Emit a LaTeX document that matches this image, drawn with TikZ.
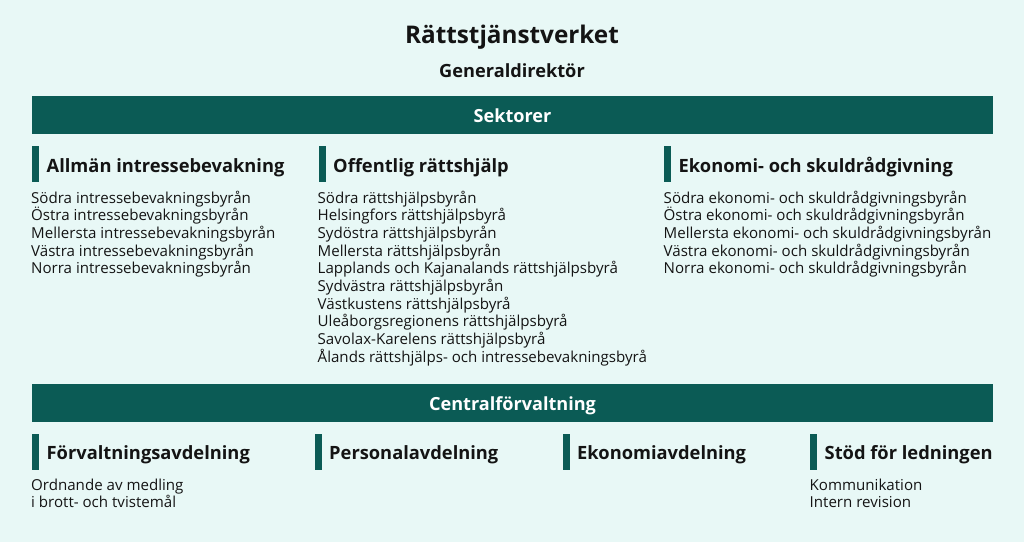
\documentclass[tikz,border=0pt]{standalone}
\usepackage{fontspec}
\setmainfont{Open Sans}
\usetikzlibrary{positioning}
\definecolor{mintbg}{HTML}{E8F8F6}
\definecolor{darkteal}{HTML}{0B5B55}
\definecolor{inktext}{HTML}{141414}

\begin{document}
\begin{tikzpicture}[x=1pt,y=-1pt]
  \useasboundingbox[fill=mintbg] (0,0) rectangle (1024,542);

  \tikzstyle{TitleStyle}=[inner sep=0pt,anchor=base,text=inktext,font=\fontsize{24.3}{29}\selectfont\bfseries]
  \tikzstyle{SubStyle}=[inner sep=0pt,anchor=base,text=inktext,font=\fontsize{18.2}{22}\selectfont\bfseries]
  \tikzstyle{BarStyle}=[fill=darkteal,inner sep=0pt,minimum width=961pt,minimum height=38pt,
                        text height=14pt,text depth=0pt,text=white,font=\fontsize{18.1}{22}\selectfont\bfseries]
  \tikzstyle{AccentStyle}=[fill=darkteal,inner sep=0pt,minimum width=7pt,minimum height=36pt,anchor=north west]
  \tikzstyle{HeadStyle}=[inner sep=0pt,anchor=base west,text=inktext,font=\fontsize{18.3}{22}\selectfont\bfseries]
  \tikzstyle{ItemStyle}=[inner sep=0pt,anchor=base west,text=inktext,font=\fontsize{15.1}{18}\selectfont]

  % title
  \node[TitleStyle] (title) at (512,43) {Rättstjänstverket};
  \node[SubStyle] (gd) at (512,77) {Generaldirektör};

  % sectors
  \node[BarStyle] (sektorer) at (512.5,115) {Sektorer};

  \node[AccentStyle] (accA) at (32,146) {};
  \node[HeadStyle] (headA) at (46.5,172.5) {Allmän intressebevakning};
  \node[ItemStyle] (a1) at (31,203) {Södra intressebevakningsbyrån};
  \node[ItemStyle] (a2) at (31,220.7) {Östra intressebevakningsbyrån};
  \node[ItemStyle] (a3) at (31,238.4) {Mellersta intressebevakningsbyrån};
  \node[ItemStyle] (a4) at (31,256.1) {Västra intressebevakningsbyrån};
  \node[ItemStyle] (a5) at (31,273.8) {Norra intressebevakningsbyrån};

  \node[AccentStyle] (accB) at (318.5,146) {};
  \node[HeadStyle] (headB) at (333,172.5) {Offentlig rättshjälp};
  \node[ItemStyle] (b1) at (317.5,203) {Södra rättshjälpsbyrån};
  \node[ItemStyle] (b2) at (317.5,220.7) {Helsingfors rättshjälpsbyrå};
  \node[ItemStyle] (b3) at (317.5,238.4) {Sydöstra rättshjälpsbyrån};
  \node[ItemStyle] (b4) at (317.5,256.1) {Mellersta rättshjälpsbyrån};
  \node[ItemStyle] (b5) at (317.5,273.8) {Lapplands och Kajanalands rättshjälpsbyrå};
  \node[ItemStyle] (b6) at (317.5,291.5) {Sydvästra rättshjälpsbyrån};
  \node[ItemStyle] (b7) at (317.5,309.2) {Västkustens rättshjälpsbyrå};
  \node[ItemStyle] (b8) at (317.5,326.9) {Uleåborgsregionens rättshjälpsbyrå};
  \node[ItemStyle] (b9) at (317.5,344.6) {Savolax-Karelens rättshjälpsbyrå};
  \node[ItemStyle] (b10) at (317.5,362.3) {Ålands rättshjälps- och intressebevakningsbyrå};

  \node[AccentStyle] (accC) at (664,146) {};
  \node[HeadStyle] (headC) at (678.5,172.5) {Ekonomi- och skuldrådgivning};
  \node[ItemStyle] (c1) at (663.5,203) {Södra ekonomi- och skuldrådgivningsbyrån};
  \node[ItemStyle] (c2) at (663.5,220.7) {Östra ekonomi- och skuldrådgivningsbyrån};
  \node[ItemStyle] (c3) at (663.5,238.4) {Mellersta ekonomi- och skuldrådgivningsbyrån};
  \node[ItemStyle] (c4) at (663.5,256.1) {Västra ekonomi- och skuldrådgivningsbyrån};
  \node[ItemStyle] (c5) at (663.5,273.8) {Norra ekonomi- och skuldrådgivningsbyrån};

  % central administration
  \node[BarStyle] (central) at (512.5,403) {Centralförvaltning};

  \node[AccentStyle] (accD) at (32,434) {};
  \node[HeadStyle] (headD) at (46.5,459.5) {Förvaltningsavdelning};
  \node[ItemStyle] (d1) at (31,490) {Ordnande av medling};
  \node[ItemStyle] (d2) at (31,507.5) {i brott- och tvistemål};

  \node[AccentStyle] (accE) at (314.5,434) {};
  \node[HeadStyle] (headE) at (329,459.5) {Personalavdelning};

  \node[AccentStyle] (accF) at (562.5,434) {};
  \node[HeadStyle] (headF) at (577,459.5) {Ekonomiavdelning};

  \node[AccentStyle] (accG) at (810,434) {};
  \node[HeadStyle] (headG) at (824.5,459.5) {Stöd för ledningen};
  \node[ItemStyle] (g1) at (809.5,490) {Kommunikation};
  \node[ItemStyle] (g2) at (809.5,507.5) {Intern revision};
\end{tikzpicture}
\end{document}
